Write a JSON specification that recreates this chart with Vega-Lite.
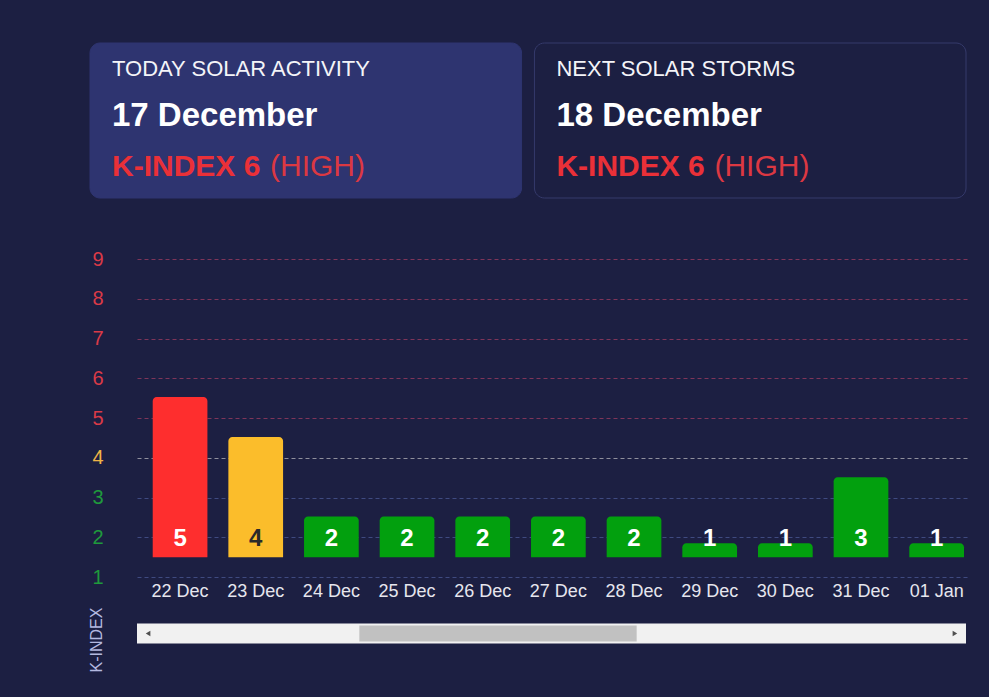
{
  "$schema": "https://vega.github.io/schema/vega-lite/v6.json",
  "background": "#1c1f42",
  "padding": {"left": 87, "top": 42, "right": 22, "bottom": 25},
  "config": {
    "view": {"stroke": null},
    "font": "Liberation Sans"
  },
  "spacing": 50,
  "vconcat": [
    {
      "width": 830,
      "height": 155,
      "data": {
        "values": [
          {"card": "today", "heading": "TODAY SOLAR ACTIVITY", "date": "17 December", "kindex": "K-INDEX 6", "level": "(HIGH)"},
          {"card": "next", "heading": "NEXT SOLAR STORMS", "date": "18 December", "kindex": "K-INDEX 6", "level": "(HIGH)"}
        ]
      },
      "encoding": {
        "x": {"field": "card", "type": "nominal", "sort": ["today", "next"], "scale": {"range": [-47, 829], "paddingInner": 0.029, "paddingOuter": 0}, "axis": null}
      },
      "layer": [
        {
          "mark": {"type": "rect", "cornerRadius": 10, "strokeWidth": 1},
          "encoding": {
            "fill": {"condition": {"test": "datum.card === 'today'", "value": "#2e3470"}, "value": "#1c1f42"},
            "stroke": {"condition": {"test": "datum.card === 'today'", "value": "#2e3470"}, "value": "#353a6b"}
          }
        },
        {
          "mark": {"type": "text", "align": "left", "baseline": "alphabetic", "dx": 22, "fontSize": 22, "color": "#f4f4f8"},
          "encoding": {
            "x": {"field": "card", "type": "nominal", "sort": ["today", "next"], "bandPosition": 0},
            "y": {"datum": "heading", "type": "ordinal", "scale": {"type": "point", "domain": ["heading", "date", "kindex"], "padding": 0.56, "align": 0.6}, "axis": null},
            "text": {"field": "heading"}
          }
        },
        {
          "mark": {"type": "text", "align": "left", "baseline": "alphabetic", "dx": 22, "fontSize": 33, "fontWeight": "bold", "color": "#ffffff"},
          "encoding": {
            "x": {"field": "card", "type": "nominal", "sort": ["today", "next"], "bandPosition": 0},
            "y": {"datum": "date", "type": "ordinal"},
            "text": {"field": "date"}
          }
        },
        {
          "mark": {"type": "text", "align": "left", "baseline": "alphabetic", "dx": 22, "fontSize": 30, "fontWeight": "bold", "color": "#ea3038"},
          "encoding": {
            "x": {"field": "card", "type": "nominal", "sort": ["today", "next"], "bandPosition": 0},
            "y": {"datum": "kindex", "type": "ordinal"},
            "text": {"field": "kindex"}
          }
        },
        {
          "mark": {"type": "text", "align": "left", "baseline": "alphabetic", "dx": 180, "fontSize": 30, "color": "#dc3842"},
          "encoding": {
            "x": {"field": "card", "type": "nominal", "sort": ["today", "next"], "bandPosition": 0},
            "y": {"datum": "kindex", "type": "ordinal"},
            "text": {"field": "level"}
          }
        }
      ]
    },
    {
      "spacing": 6.5,
      "vconcat": [
        {
          "width": 830,
          "height": 318,
          "data": {
            "values": [
              {"date": "22 Dec", "k": 5, "bar": 5.53},
              {"date": "23 Dec", "k": 4, "bar": 4.52},
              {"date": "24 Dec", "k": 2, "bar": 2.52},
              {"date": "25 Dec", "k": 2, "bar": 2.52},
              {"date": "26 Dec", "k": 2, "bar": 2.52},
              {"date": "27 Dec", "k": 2, "bar": 2.52},
              {"date": "28 Dec", "k": 2, "bar": 2.52},
              {"date": "29 Dec", "k": 1, "bar": 1.85},
              {"date": "30 Dec", "k": 1, "bar": 1.85},
              {"date": "31 Dec", "k": 3, "bar": 3.51},
              {"date": "01 Jan", "k": 1, "bar": 1.85}
            ]
          },
          "encoding": {
            "x": {
              "field": "date", "type": "ordinal", "sort": null,
              "scale": {"paddingInner": 0.277, "paddingOuter": 0.1236, "align": 0.84},
              "axis": {"title": null, "labelAngle": 0, "labelColor": "#e6e6ee", "labelFontSize": 18, "labelPadding": 5, "ticks": false, "domain": false, "grid": false}
            }
          },
          "layer": [
            {
              "mark": {"type": "bar", "cornerRadiusTopLeft": 4, "cornerRadiusTopRight": 4},
              "encoding": {
                "y": {
                  "field": "bar", "type": "quantitative",
                  "scale": {"domain": [1, 9], "nice": false, "zero": false},
                  "axis": {
                    "title": null, "values": [1, 2, 3, 4, 5, 6, 7, 8, 9], "tickCount": 9,
                    "ticks": false, "domain": false, "labelFontSize": 20, "labelPadding": 34, "labelOverlap": false,
                    "grid": true, "gridDash": [4, 3], "gridWidth": 1,
                    "labelColor": {
                      "condition": [
                        {"test": "datum.value >= 5", "value": "#d93a47"},
                        {"test": "datum.value >= 4", "value": "#efb446"}
                      ],
                      "value": "#1f9a3c"
                    },
                    "gridColor": {
                      "condition": [
                        {"test": "datum.value >= 5", "value": "#7e3559"},
                        {"test": "datum.value >= 4", "value": "#8f8f9c"}
                      ],
                      "value": "#3f4a80"
                    }
                  }
                },
                "y2": {"datum": 1.5},
                "color": {
                  "condition": [
                    {"test": "datum.k >= 5", "value": "#fe2e2e"},
                    {"test": "datum.k >= 4", "value": "#fbbd2b"}
                  ],
                  "value": "#02a00e"
                }
              }
            },
            {
              "mark": {"type": "text", "fontSize": 24, "fontWeight": "bold", "baseline": "middle"},
              "encoding": {
                "y": {
                  "datum": 1.96, "type": "quantitative",
                  "axis": {
                    "title": null, "values": [1, 2, 3, 4, 5, 6, 7, 8, 9], "tickCount": 9,
                    "ticks": false, "domain": false, "labelFontSize": 20, "labelPadding": 34, "labelOverlap": false,
                    "grid": true, "gridDash": [4, 3], "gridWidth": 1,
                    "labelColor": {
                      "condition": [
                        {"test": "datum.value >= 5", "value": "#d93a47"},
                        {"test": "datum.value >= 4", "value": "#efb446"}
                      ],
                      "value": "#1f9a3c"
                    },
                    "gridColor": {
                      "condition": [
                        {"test": "datum.value >= 5", "value": "#7e3559"},
                        {"test": "datum.value >= 4", "value": "#8f8f9c"}
                      ],
                      "value": "#3f4a80"
                    }
                  }
                },
                "text": {"field": "k"},
                "color": {"condition": {"test": "datum.k === 4", "value": "#2a2a2a"}, "value": "#ffffff"}
              }
            }
          ]
        },
        {
          "width": 829,
          "height": 20,
          "view": {"fill": "#f1f1f1"},
          "data": {
            "values": [
              {"part": "thumb", "from": 8.35, "to": 19.39},
              {"part": "left", "at": -0.06},
              {"part": "right", "at": 32.06}
            ]
          },
          "layer": [
            {
              "transform": [{"filter": "datum.part === 'thumb'"}],
              "mark": {"type": "rect", "color": "#c1c1c1"},
              "encoding": {
                "x": {"field": "from", "type": "quantitative", "scale": {"domain": [-0.5, 32.5], "nice": false, "zero": false}, "axis": null},
                "x2": {"field": "to"},
                "y": {
                  "datum": 0.1, "type": "quantitative", "scale": {"domain": [0, 1], "nice": false},
                  "axis": {
                    "title": "K-INDEX", "labels": false, "ticks": false, "domain": false, "grid": false,
                    "titleAngle": 270, "titleX": -41, "titleY": 16, "titleAlign": "center", "titleBaseline": "middle",
                    "titleColor": "#b4b9e0", "titleFontSize": 16, "titleFontWeight": "normal"
                  }
                },
                "y2": {"datum": 0.9}
              }
            },
            {
              "transform": [{"filter": "datum.part !== 'thumb'"}],
              "mark": {"type": "point", "filled": true, "size": 28, "opacity": 1, "color": "#505050"},
              "encoding": {
                "x": {"field": "at", "type": "quantitative"},
                "y": {"datum": 0.5, "type": "quantitative"},
                "shape": {"field": "part", "type": "nominal", "scale": {"domain": ["left", "right"], "range": ["triangle-left", "triangle-right"]}, "legend": null}
              }
            }
          ]
        }
      ]
    }
  ]
}
